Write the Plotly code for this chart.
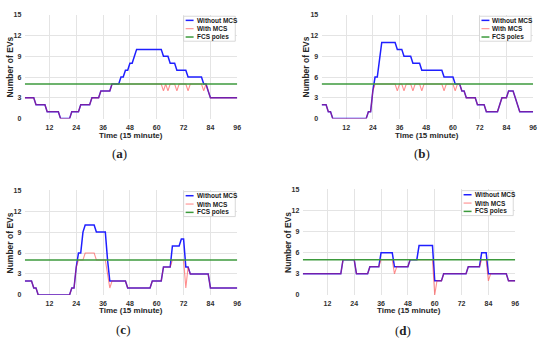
import plotly.graph_objects as go

W, H = 550, 344

# ---------------- data ----------------
TIME = list(range(1, 97))
X_TICKS = [12, 24, 36, 48, 60, 72, 84, 96]
Y_TICKS = [0, 3, 6, 9, 12, 15]
FCS_X = [1, 96]
FCS_POLES = [5, 5]
SERIES_NAMES = ["Without MCS", "With MCS", "FCS poles"]
PANEL_LABELS = ["a", "b", "c", "d"]

A_without = [3, 3, 3, 3, 3, 2, 2, 2, 2, 2, 1, 1, 1, 1, 1, 1, 0, 0, 0, 0,
             0, 1, 1, 1, 1, 2, 2, 2, 2, 2, 3, 3, 3, 3, 4, 4, 4, 4, 4, 5,
             5, 5, 5, 6, 6, 7, 7, 8, 8, 9, 10, 10, 10, 10, 10, 10, 10, 10, 10, 10,
             10, 10, 9, 9, 9, 8, 8, 8, 7, 7, 7, 7, 7, 6, 6, 6, 6, 6, 6, 6,
             5, 5, 4, 3, 3, 3, 3, 3, 3, 3, 3, 3, 3, 3, 3, 3]
A_with = [3, 3, 3, 3, 3, 2, 2, 2, 2, 2, 1, 1, 1, 1, 1, 1, 0, 0, 0, 0,
          0, 1, 1, 1, 1, 2, 2, 2, 2, 2, 3, 3, 3, 3, 4, 4, 4, 4, 4, 5,
          5, 5, 5, 5, 5, 5, 5, 5, 5, 5, 5, 5, 5, 5, 5, 5, 5, 5, 5, 5,
          5, 5, 4, 5, 4, 5, 5, 5, 4, 5, 5, 5, 5, 4, 5, 5, 5, 5, 5, 5,
          4, 5, 4, 3, 3, 3, 3, 3, 3, 3, 3, 3, 3, 3, 3, 3]

B_without = [2, 2, 2, 1, 1, 0, 0, 0, 0, 0, 0, 0, 0, 0, 0, 0, 0, 0, 0, 0,
             0, 1, 1, 4, 6, 6, 9, 11, 11, 11, 11, 11, 11, 11, 10, 10, 10, 9, 9, 9,
             9, 8, 8, 8, 8, 7, 7, 7, 7, 7, 7, 7, 7, 7, 7, 6, 6, 6, 6, 6,
             5, 5, 5, 4, 4, 3, 3, 3, 3, 3, 2, 2, 2, 2, 1, 1, 1, 1, 1, 1,
             2, 3, 3, 3, 4, 4, 4, 3, 2, 1, 1, 1, 1, 1, 1, 1]
B_with = [2, 2, 2, 1, 1, 0, 0, 0, 0, 0, 0, 0, 0, 0, 0, 0, 0, 0, 0, 0,
          0, 1, 1, 4, 5, 5, 5, 5, 5, 5, 5, 5, 5, 5, 4, 5, 5, 4, 5, 5,
          5, 4, 5, 5, 5, 4, 5, 5, 5, 5, 5, 5, 5, 5, 5, 4, 5, 5, 5, 5,
          4, 5, 5, 4, 4, 3, 3, 3, 3, 3, 2, 2, 2, 2, 1, 1, 1, 1, 1, 1,
          2, 3, 3, 3, 4, 4, 4, 3, 2, 1, 1, 1, 1, 1, 1, 1]

C_without = [2, 2, 2, 2, 1, 1, 0, 0, 0, 0, 0, 0, 0, 0, 0, 0, 0, 0, 0, 0,
             0, 1, 1, 4, 6, 6, 9, 10, 10, 10, 10, 10, 9, 9, 9, 9, 9, 5, 2, 2,
             2, 2, 2, 2, 2, 2, 1, 1, 1, 1, 1, 1, 1, 1, 1, 1, 1, 2, 2, 2,
             2, 2, 4, 4, 4, 4, 7, 7, 7, 7, 8, 8, 4, 4, 3, 3, 3, 3, 3, 3,
             3, 3, 3, 1, 1, 1, 1, 1, 1, 1, 1, 1, 1, 1, 1, 1]
C_with = [2, 2, 2, 2, 1, 1, 0, 0, 0, 0, 0, 0, 0, 0, 0, 0, 0, 0, 0, 0,
          0, 1, 1, 4, 5, 5, 5, 6, 6, 6, 6, 6, 5, 5, 5, 5, 5, 3, 1, 2,
          2, 2, 2, 2, 2, 2, 1, 1, 1, 1, 1, 1, 1, 1, 1, 1, 1, 2, 2, 2,
          2, 2, 4, 4, 4, 4, 5, 5, 5, 5, 5, 5, 1, 4, 3, 3, 3, 3, 3, 3,
          3, 3, 3, 1, 1, 1, 1, 1, 1, 1, 1, 1, 1, 1, 1, 1]

D_without = [3, 3, 3, 3, 3, 3, 3, 3, 3, 3, 3, 3, 3, 3, 3, 3, 3, 3, 5, 5,
             5, 5, 5, 5, 3, 3, 3, 3, 3, 3, 4, 4, 4, 4, 4, 6, 6, 6, 6, 6,
             6, 4, 4, 4, 4, 4, 4, 4, 5, 5, 5, 5, 7, 7, 7, 7, 7, 7, 7, 2,
             2, 2, 2, 3, 3, 3, 3, 3, 3, 3, 3, 3, 3, 3, 4, 4, 4, 4, 4, 4,
             6, 6, 6, 3, 3, 3, 3, 3, 3, 3, 3, 3, 2, 2, 2, 2]
D_with = [3, 3, 3, 3, 3, 3, 3, 3, 3, 3, 3, 3, 3, 3, 3, 3, 3, 3, 5, 5,
          5, 5, 5, 5, 3, 3, 3, 3, 3, 3, 4, 4, 4, 4, 4, 5, 5, 5, 5, 5,
          5, 3, 4, 4, 4, 4, 4, 4, 5, 5, 5, 5, 5, 5, 5, 5, 5, 5, 5, 0,
          2, 2, 2, 3, 3, 3, 3, 3, 3, 3, 3, 3, 3, 3, 4, 4, 4, 4, 4, 4,
          5, 5, 5, 2, 3, 3, 3, 3, 3, 3, 3, 3, 2, 2, 2, 2]

# ---------------- styling ----------------
BLUE = "#1f1fff"
RED = "#ff2020"
GREEN = "#3c9a3c"
GRID = "#e4e4e4"
TICK_COLOR = "#303030"
SANS = "Liberation Sans, Arial, sans-serif"
SERIF = "Liberation Serif, Times New Roman, serif"

# pixel boxes (left, top, right, bottom) of each plot area
BOXES = [(25, 11, 239, 117), (324, 11, 537, 117), (25, 190, 239, 297), (305, 189, 519, 297)]
YLABEL_X = [10, 308, 10, 290]
XLABEL_Y = [134, 134, 313, 313]
PLABEL_Y = [153, 153, 332, 333]
PLABEL_X = [120, 425, 124, 406]

data_without = [A_without, B_without, C_without, D_without]
data_with = [A_with, B_with, C_with, D_with]


def px(x):
    return x / W


def py(y):
    return 1 - y / H


fig = go.Figure()
shapes = []
annotations = []

for i in range(4):
    L, T, R, B = BOXES[i]
    sfx = "" if i == 0 else str(i + 1)
    xa, ya = "x" + sfx, "y" + sfx
    fig.add_trace(go.Scatter(x=TIME, y=data_without[i], mode="lines", xaxis=xa, yaxis=ya,
                             line=dict(color=BLUE, width=1.5), showlegend=False,
                             name=SERIES_NAMES[0]))
    fig.add_trace(go.Scatter(x=TIME, y=data_with[i], mode="lines", xaxis=xa, yaxis=ya,
                             line=dict(color=RED, width=1.1), opacity=0.5, showlegend=False,
                             name=SERIES_NAMES[1]))
    fig.add_trace(go.Scatter(x=FCS_X, y=FCS_POLES, mode="lines", xaxis=xa, yaxis=ya,
                             line=dict(color=GREEN, width=1.5), showlegend=False,
                             name=SERIES_NAMES[2]))

    axis_common = dict(showgrid=True, gridcolor=GRID, gridwidth=0.8, zeroline=False,
                       showline=False, tickfont=dict(family=SANS, size=7, color=TICK_COLOR, weight="bold"))
    fig.update_layout(**{
        "xaxis" + sfx: dict(domain=[px(L), px(R)], range=[1, 96], tickvals=X_TICKS,
                            anchor=ya, ticks="outside", ticklen=2, tickcolor="rgba(0,0,0,0)",
                            **axis_common),
        "yaxis" + sfx: dict(domain=[py(B), py(T)], range=[0, 15], tickvals=Y_TICKS,
                            anchor=xa, ticks="outside", ticklen=1, tickcolor="rgba(0,0,0,0)",
                            **axis_common),
    })

    # axis titles
    annotations.append(dict(x=px(YLABEL_X[i]), y=py((T + B) / 2), xref="paper", yref="paper",
                            text="<b>Number of EVs</b>", textangle=-90, showarrow=False,
                            font=dict(family=SANS, size=8.5, color="#262626"),
                            xanchor="center", yanchor="middle"))
    annotations.append(dict(x=px((L + R) / 2), y=py(XLABEL_Y[i]), xref="paper", yref="paper",
                            text="<b>Time (15 minute)</b>", showarrow=False,
                            font=dict(family=SANS, size=8, color="#262626"),
                            xanchor="center", yanchor="middle"))
    annotations.append(dict(x=px(PLABEL_X[i]), y=py(PLABEL_Y[i]), xref="paper", yref="paper",
                            text="(<b>" + PANEL_LABELS[i] + "</b>)", showarrow=False,
                            font=dict(family=SERIF, size=13, color="#222222"),
                            xanchor="center", yanchor="middle"))

    # legend box
    bx0, bx1 = R - 54, R - 2
    by0, by1 = T + 1.5, T + 27
    shapes.append(dict(type="rect", xref="paper", yref="paper", x0=px(bx0), x1=px(bx1),
                       y0=py(by1), y1=py(by0), line=dict(color="#cfcfcf", width=0.8),
                       fillcolor="white", layer="above"))
    colors = [BLUE, RED, GREEN]
    widths = [1.5, 1.1, 1.5]
    opac = [1, 0.5, 1]
    for k in range(3):
        ry = by0 + 4.2 + k * 8.5
        shapes.append(dict(type="line", xref="paper", yref="paper", x0=px(bx0 + 2), x1=px(bx0 + 10),
                           y0=py(ry), y1=py(ry), line=dict(color=colors[k], width=widths[k]),
                           opacity=opac[k], layer="above"))
        annotations.append(dict(x=px(bx0 + 11), y=py(ry), xref="paper", yref="paper",
                                text="<b>" + SERIES_NAMES[k] + "</b>", showarrow=False,
                                font=dict(family=SANS, size=6.5, color="#1a1a1a"),
                                xanchor="left", yanchor="middle", xshift=0))

fig.update_layout(width=W, height=H, margin=dict(l=0, r=0, t=0, b=0),
                  paper_bgcolor="white", plot_bgcolor="white", showlegend=False,
                  shapes=shapes, annotations=annotations)

fig.write_html("out.html", config={"displayModeBar": False},
               post_script="document.body.style.margin='0';document.body.style.overflow='hidden';")
